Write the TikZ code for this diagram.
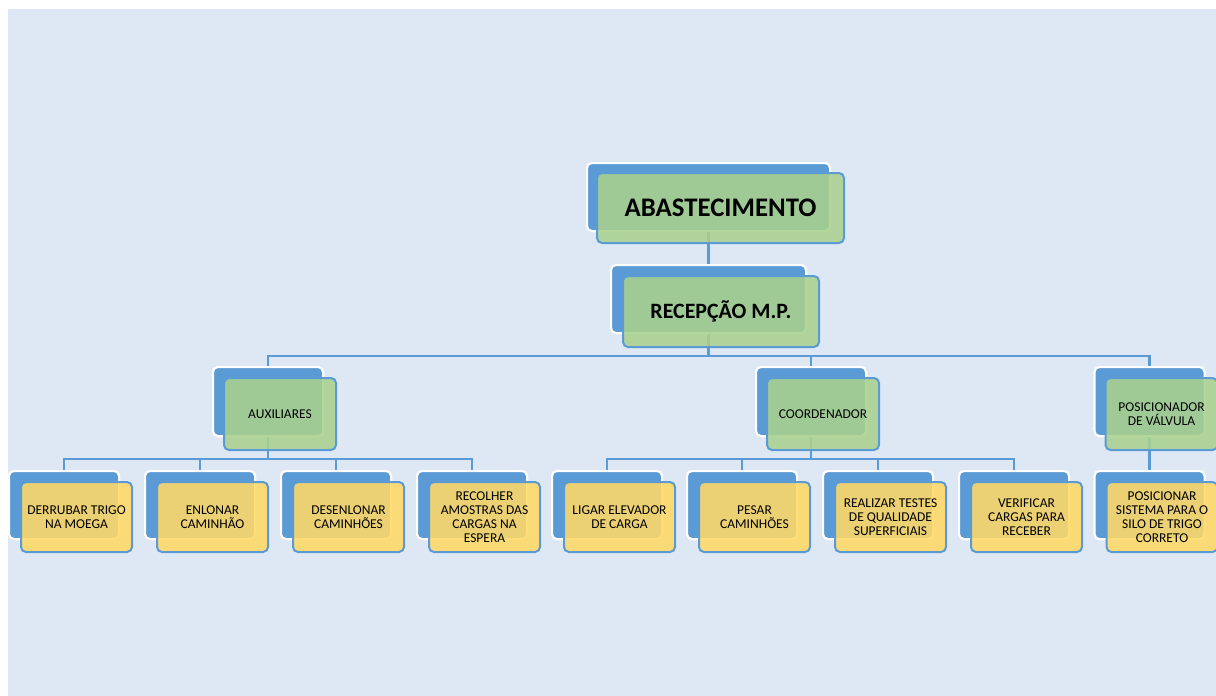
\documentclass[tikz,border=0pt]{standalone}
\usepackage{fontspec}
\setmainfont{Carlito}
\usetikzlibrary{calc}
\definecolor{pagebg}{RGB}{222,232,244}
\definecolor{accentblue}{RGB}{91,155,213}
\definecolor{cardgreen}{RGB}{169,209,142}
\definecolor{cardyellow}{RGB}{255,217,102}
\tikzset{
  backcard/.style={draw=white, line width=2pt, fill=accentblue, rounded corners=5pt, inner sep=0pt},
  frontcard/.style={draw=accentblue, line width=2pt, rounded corners=5pt, fill opacity=0.88,
    draw opacity=1, text opacity=1, align=center, inner sep=1pt, text=black},
  greencard/.style={frontcard, fill=cardgreen},
  yellowcard/.style={frontcard, fill=cardyellow},
  smalltext/.style={font=\fontsize{13.5}{14}\selectfont},
  leafback/.style={backcard, minimum width=110pt, minimum height=68pt},
  leaffront/.style={yellowcard, smalltext, minimum width=111pt, minimum height=70pt},
  midback/.style={backcard, minimum width=110pt, minimum height=69pt},
  midfront/.style={greencard, smalltext, minimum width=112pt, minimum height=72pt},
  link/.style={draw=accentblue, line width=2.2pt},
}
\begin{document}
\begin{tikzpicture}[x=1pt,y=-1pt]
\useasboundingbox (0,0) rectangle (1216,696);
\fill[pagebg] (8,9) rectangle (1216,696);

% back cards (positions only, connectors hook onto these)
\node[backcard, minimum width=243pt, minimum height=68pt] (top) at (708.5,197) {};
\node[backcard, minimum width=195pt, minimum height=68pt] (rec) at (708.5,299) {};
\node[midback] (aux) at (268,401.5) {};
\node[midback] (coo) at (811,401.5) {};
\node[midback] (pos) at (1149.5,401.5) {};
\node[leafback] (l1) at (64,505) {};
\node[leafback] (l2) at (200,505) {};
\node[leafback] (l3) at (336,505) {};
\node[leafback] (l4) at (472,505) {};
\node[leafback] (l5) at (607,505) {};
\node[leafback] (l6) at (742,505) {};
\node[leafback] (l7) at (878,505) {};
\node[leafback] (l8) at (1014,505) {};
\node[leafback] (l9) at (1149.5,505) {};

% connectors
\coordinate (busA) at (708.5,356);
\coordinate (busB) at (268,459);
\coordinate (busC) at (811,459);
\draw[link] (top.south) -- (rec.north);
\draw[link] (rec.south) -- (busA);
\draw[link] (busA) -| (aux.north);
\draw[link] (busA) -| (coo.north);
\draw[link] (busA) -| (pos.north);
\draw[link] (aux.south) -- (busB);
\foreach \n in {l1,l2,l3,l4} \draw[link] (busB) -| (\n.north);
\draw[link] (coo.south) -- (busC);
\foreach \n in {l5,l6,l7,l8} \draw[link] (busC) -| (\n.north);
\draw[link] (pos.south) -- (l9.north);

% back cards redrawn over the connector ends
\foreach \n/\w/\h in {top/243/68, rec/195/68}
  \node[backcard, minimum width=\w pt, minimum height=\h pt] at (\n) {};
\foreach \n in {aux,coo,pos} \node[midback] at (\n) {};
\foreach \n in {l1,l2,l3,l4,l5,l6,l7,l8,l9} \node[leafback] at (\n) {};

% front cards with labels
\node[greencard, minimum width=247pt, minimum height=70pt, font=\fontsize{26.8}{30}\selectfont\bfseries]
  (topf) at ($(top)+(12,11)$) {ABASTECIMENTO};
\node[greencard, minimum width=196pt, minimum height=71pt, font=\fontsize{21.9}{25}\selectfont\bfseries]
  (recf) at ($(rec)+(12.5,12.5)$) {RECEPÇÃO M.P.};
\node[midfront] (auxf) at ($(aux)+(12,12.5)$) {AUXILIARES};
\node[midfront] (coof) at ($(coo)+(12,12.5)$) {COORDENADOR};
\node[midfront] (posf) at ($(pos)+(12,12.5)$) {POSICIONADOR\\DE VÁLVULA};
\node[leaffront] (l1f) at ($(l1)+(12.5,12)$) {DERRUBAR TRIGO\\NA MOEGA};
\node[leaffront] (l2f) at ($(l2)+(12.5,12)$) {ENLONAR\\CAMINHÃO};
\node[leaffront] (l3f) at ($(l3)+(12.5,12)$) {DESENLONAR\\CAMINHÕES};
\node[leaffront] (l4f) at ($(l4)+(12.5,12)$) {RECOLHER\\AMOSTRAS DAS\\CARGAS NA\\ESPERA};
\node[leaffront] (l5f) at ($(l5)+(12.5,12)$) {LIGAR ELEVADOR\\DE CARGA};
\node[leaffront] (l6f) at ($(l6)+(12.5,12)$) {PESAR\\CAMINHÕES};
\node[leaffront] (l7f) at ($(l7)+(12.5,12)$) {REALIZAR TESTES\\DE QUALIDADE\\SUPERFICIAIS};
\node[leaffront] (l8f) at ($(l8)+(12.5,12)$) {VERIFICAR\\CARGAS PARA\\RECEBER};
\node[leaffront] (l9f) at ($(l9)+(12.5,12)$) {POSICIONAR\\SISTEMA PARA O\\SILO DE TRIGO\\CORRETO};
\end{tikzpicture}
\end{document}
